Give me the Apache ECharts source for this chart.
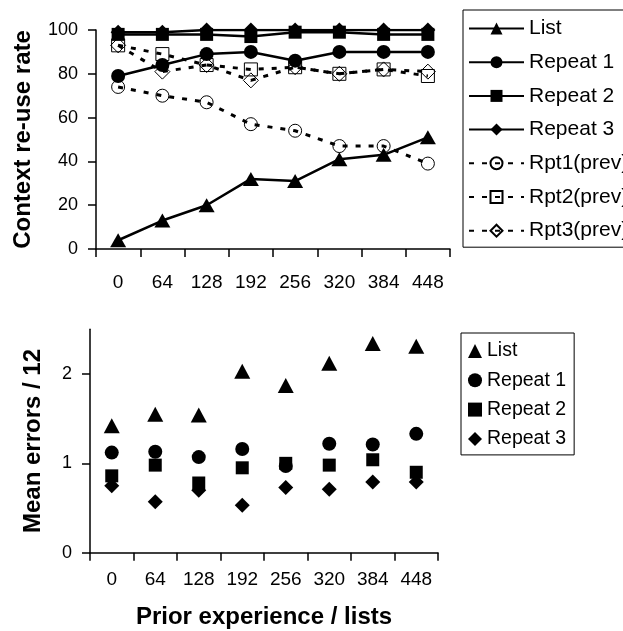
<!DOCTYPE html>
<html>
<head>
<meta charset="utf-8">
<script src="https://cdn.jsdelivr.net/npm/echarts@6/dist/echarts.min.js"></script>
<style>
  html, body { margin: 0; padding: 0; background: #fff; }
  #chart { width: 623px; height: 631px; }
</style>
</head>
<body>
<div id="chart"></div>
<script>
// prior experience (lists) - shared by both panels
const categories = ["0", "64", "128", "192", "256", "320", "384", "448"];

// top panel: context re-use rate
const reuseList = [4, 13, 20, 32, 31, 41, 43, 51];
const reuseRep1 = [79, 84, 89, 90, 86, 90, 90, 90];
const reuseRep2 = [98, 98, 98, 97, 99, 99, 98, 98];
const reuseRep3 = [99, 99, 100, 100, 100, 100, 100, 100];
const reuseRpt1Prev = [74, 70, 67, 57, 54, 47, 47, 39];
const reuseRpt2Prev = [93, 89, 84, 82, 83, 80, 82, 79];
const reuseRpt3Prev = [93, 81, 84, 77, 83, 80, 82, 81];

// bottom panel: mean errors / 12
const errList = [1.42, 1.55, 1.54, 2.03, 1.87, 2.12, 2.34, 2.31];
const errRep1 = [1.12, 1.13, 1.07, 1.16, 0.97, 1.22, 1.21, 1.33];
const errRep2 = [0.86, 0.98, 0.78, 0.95, 1.0, 0.98, 1.04, 0.9];
const errRep3 = [0.75, 0.57, 0.7, 0.53, 0.73, 0.71, 0.79, 0.79];

const errTicks = [0, 1, 2];

const FONT = "Liberation Sans";

const chart = echarts.init(document.getElementById("chart"), null, { renderer: "canvas" });

function axisCommon(extra) {
  return Object.assign({
    axisLine: { show: true, lineStyle: { color: "#000", width: 1.5 } },
    axisTick: { show: true, inside: false, length: 8, lineStyle: { color: "#000", width: 1.5 } },
    splitLine: { show: false },
    axisLabel: { color: "#000", fontFamily: FONT, fontSize: 18 }
  }, extra);
}

function lineSeries(name, data, symbol, size, hollow) {
  return {
    name: name,
    type: "line",
    xAxisIndex: 0,
    yAxisIndex: 0,
    data: data,
    symbol: symbol,
    symbolSize: size,
    showAllSymbol: true,
    // hollow markers are see-through in the original, the dashes show inside them
    itemStyle: hollow
      ? { color: "rgba(255,255,255,0)", borderColor: "#000", borderWidth: 1 }
      : { color: "#000" },
    lineStyle: hollow
      ? { color: "#000", width: 3, type: [5, 8] }
      : { color: "#000", width: 2.5 },
    emphasis: { disabled: true },
    animation: false,
    z: hollow ? 2 : 3
  };
}

function scatterSeries(name, data, symbol, size) {
  return {
    name: name,
    type: "scatter",
    xAxisIndex: 1,
    yAxisIndex: 1,
    data: data,
    symbol: symbol,
    symbolSize: size,
    itemStyle: { color: "#000", opacity: 1 },
    emphasis: { disabled: true },
    animation: false
  };
}

chart.setOption({
  backgroundColor: "#fff",
  animation: false,
  textStyle: { fontFamily: FONT, color: "#000" },
  grid: [
    { left: 96, top: 30, width: 354, height: 219 },
    { left: 90, top: 329.3, width: 348, height: 223.4 }
  ],
  xAxis: [
    axisCommon({
      type: "category",
      gridIndex: 0,
      data: categories,
      boundaryGap: true,
      axisLabel: { color: "#000", fontFamily: FONT, fontSize: 19, margin: 24, interval: 0 },
      axisTick: { show: true, length: 8, interval: 0, lineStyle: { color: "#000", width: 1.5 } }
    }),
    axisCommon({
      type: "category",
      gridIndex: 1,
      data: categories,
      boundaryGap: true,
      axisLabel: { color: "#000", fontFamily: FONT, fontSize: 19, margin: 18, interval: 0 },
      axisTick: { show: true, length: 8, interval: 0, lineStyle: { color: "#000", width: 1.5 } },
      name: "Prior experience / lists",
      nameLocation: "middle",
      nameGap: 53,
      nameTextStyle: { fontFamily: FONT, fontSize: 24, fontWeight: "bold", color: "#000" }
    })
  ],
  yAxis: [
    axisCommon({
      type: "value",
      gridIndex: 0,
      min: 0,
      max: 100,
      interval: 20,
      axisLabel: { color: "#000", fontFamily: FONT, fontSize: 18, margin: 18 },
      name: "Context re-use rate",
      nameLocation: "middle",
      nameGap: 61,
      nameTextStyle: { fontFamily: FONT, fontSize: 24, fontWeight: "bold", color: "#000" }
    }),
    axisCommon({
      type: "value",
      gridIndex: 1,
      min: 0,
      max: 2.5,
      axisLabel: { color: "#000", fontFamily: FONT, fontSize: 18, margin: 18, customValues: errTicks },
      axisTick: { show: true, length: 8, customValues: errTicks, lineStyle: { color: "#000", width: 1.5 } },
      name: "Mean errors / 12",
      nameLocation: "middle",
      nameGap: 45,
      nameTextStyle: { fontFamily: FONT, fontSize: 24, fontWeight: "bold", color: "#000" }
    })
  ],
  legend: [
    {
      orient: "vertical",
      left: 463,
      top: 10,
      padding: [8, 60, 6, 5],
      itemWidth: 55,
      itemHeight: 15,
      itemGap: 12.7,
      borderColor: "#000",
      borderWidth: 1,
      selectedMode: false,
      textStyle: { fontFamily: FONT, fontSize: 21, color: "#000", lineHeight: 21 },
      data: ["List", "Repeat 1", "Repeat 2", "Repeat 3", "Rpt1(prev)", "Rpt2(prev)", "Rpt3(prev)"]
    },
    {
      orient: "vertical",
      left: 461,
      top: 333,
      padding: [8, 8, 6, 7],
      itemWidth: 14,
      itemHeight: 14,
      itemGap: 9.3,
      borderColor: "#000",
      borderWidth: 1,
      selectedMode: false,
      textStyle: { fontFamily: FONT, fontSize: 19.5, color: "#000", lineHeight: 20 },
      data: [
        { name: "List", icon: "triangle" },
        { name: "Repeat 1", icon: "circle" },
        { name: "Repeat 2", icon: "rect" },
        { name: "Repeat 3", icon: "diamond" }
      ]
    }
  ],
  series: [
    lineSeries("Rpt1(prev)", reuseRpt1Prev, "circle", 13, true),
    lineSeries("Rpt2(prev)", reuseRpt2Prev, "rect", 13, true),
    lineSeries("Rpt3(prev)", reuseRpt3Prev, "diamond", 15, true),
    lineSeries("List", reuseList, "triangle", [16, 14], false),
    lineSeries("Repeat 1", reuseRep1, "circle", 14, false),
    lineSeries("Repeat 2", reuseRep2, "rect", 13, false),
    lineSeries("Repeat 3", reuseRep3, "diamond", 15, false),
    scatterSeries("List", errList, "triangle", [16, 15]),
    scatterSeries("Repeat 1", errRep1, "circle", 14),
    scatterSeries("Repeat 2", errRep2, "rect", 13),
    scatterSeries("Repeat 3", errRep3, "diamond", 15)
  ]
});
</script>
</body>
</html>
